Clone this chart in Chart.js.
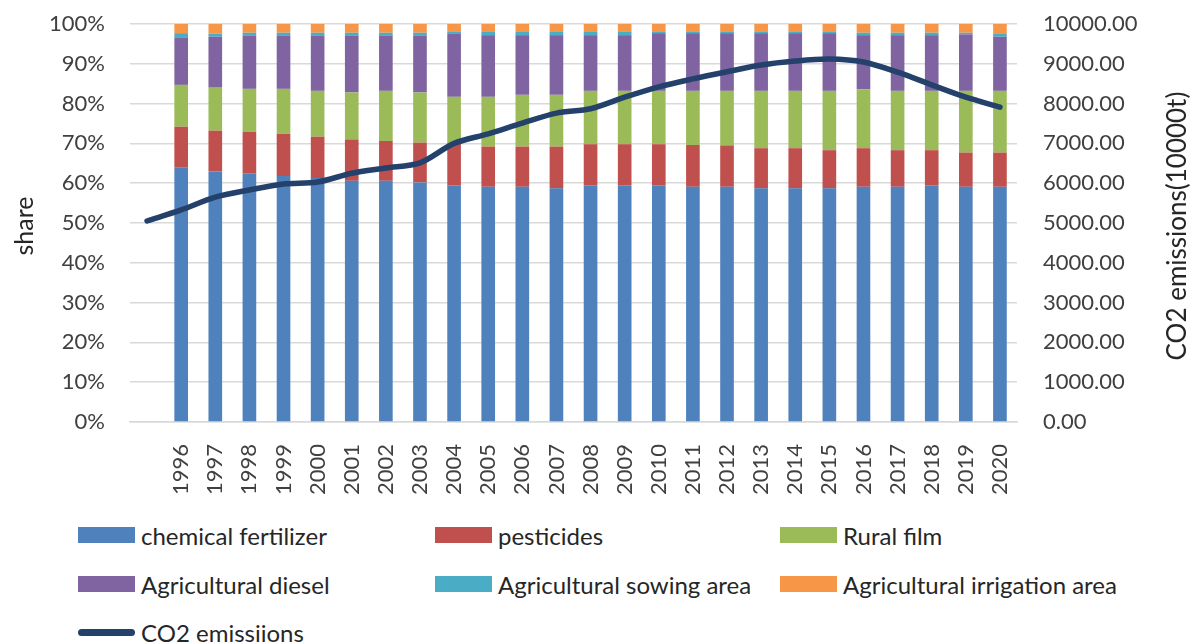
<!DOCTYPE html>
<html>
<head>
<meta charset="utf-8">
<script src="https://cdn.jsdelivr.net/npm/chart.js@4.4.1/dist/chart.umd.min.js"></script>
<style>
  html, body { margin: 0; padding: 0; background: #fff; }
  #wrap { position: relative; width: 1195px; height: 644px; overflow: hidden; font-family: Lato, "Open Sans", sans-serif; }
  #box { position: absolute; left: 0; top: 0; width: 1195px; height: 510px; }
  .lg { position: absolute; display: flex; align-items: center; font-size: 24px; color: #262626; white-space: nowrap; }
  .sw { width: 57px; height: 16px; margin-right: 6px; }
  .sw.line { height: 7px; border-radius: 4px; }
</style>
</head>
<body>
<div id="wrap">
  <div id="box"><canvas id="chart"></canvas></div>
  <div id="legend"></div>
</div>
<script>
// categories (first row has no year label)
const years = ['1996','1997','1998','1999','2000','2001','2002','2003','2004','2005','2006','2007','2008',
  '2009','2010','2011','2012','2013','2014','2015','2016','2017','2018','2019','2020'];

// shares in %, 1996..2020
const fertilizer = [64.0,62.9,62.5,61.8,61.3,60.6,60.6,60.2,59.5,59.1,59.1,58.7,59.5,59.5,59.5,59.1,59.1,58.7,58.7,58.7,59.1,59.1,59.5,59.1,59.1];
const pesticides = [10.2,10.3,10.4,10.6,10.4,10.4,10.0,10.0,10.5,10.1,10.1,10.5,10.3,10.3,10.3,10.5,10.4,10.1,10.1,9.6,9.7,9.2,8.8,8.6,8.6];
const ruralFilm  = [10.5,10.8,10.8,11.3,11.5,11.8,12.6,12.6,11.7,12.5,13.0,13.0,13.4,13.4,13.4,13.6,13.7,14.4,14.4,14.9,14.8,14.9,14.9,15.5,15.5];
const diesel     = [11.8,12.8,13.3,13.3,13.8,14.2,13.8,14.2,15.8,15.5,15.0,15.0,14.0,14.0,14.5,14.5,14.5,14.5,14.5,14.5,13.6,14.0,14.0,14.2,13.6];
const sowing     = [1.2,0.8,0.8,0.8,0.8,0.8,0.8,0.8,0.5,0.8,0.8,0.8,0.8,0.8,0.3,0.3,0.3,0.3,0.3,0.3,0.6,0.6,0.6,0.4,0.7];
const irrigation = [2.3,2.4,2.2,2.2,2.2,2.2,2.2,2.2,2.0,2.0,2.0,2.0,2.0,2.0,2.0,2.0,2.0,2.0,2.0,2.0,2.2,2.2,2.2,2.2,2.5];

// CO2 emissions (10000t), leading unlabeled row + 1996..2020
const co2 = [5050,5330,5650,5830,5980,6030,6250,6380,6510,7000,7240,7510,7760,7870,8160,8420,8620,8800,8970,9070,9120,9045,8790,8470,8160,7910];

const shareTicks = [0,10,20,30,40,50,60,70,80,90,100];
const leftTitle = 'share';
const rightTitle = 'CO2 emissions(10000t)';

const labels = [''].concat(years);
const pad = arr => [null].concat(arr);

const barSeries = [
  { label: 'chemical fertilizer', data: fertilizer, color: '#4F81BD' },
  { label: 'pesticides', data: pesticides, color: '#C0504D' },
  { label: 'Rural film', data: ruralFilm, color: '#9BBB59' },
  { label: 'Agricultural diesel', data: diesel, color: '#8064A2' },
  { label: 'Agricultural sowing area', data: sowing, color: '#4BACC6' },
  { label: 'Agricultural irrigation area', data: irrigation, color: '#F79646' }
];
const lineColor = '#24416B';
const tickFont = { family: 'Lato', size: 22 };
const tickColor = '#404040';

const datasets = barSeries.map(s => ({
  type: 'bar',
  label: s.label,
  data: pad(s.data),
  backgroundColor: s.color,
  stack: 'share',
  yAxisID: 'y',
  barPercentage: 0.4,
  categoryPercentage: 1,
  order: 1
}));
datasets.push({
  type: 'line',
  label: 'CO2 emissiions',
  data: co2,
  yAxisID: 'y1',
  borderColor: lineColor,
  borderWidth: 5.5,
  borderCapStyle: 'round',
  borderJoinStyle: 'round',
  tension: 0.3,
  pointRadius: 0,
  fill: false,
  order: 0
});

// both axis titles read bottom-to-top, as in the original
const axisTitles = {
  id: 'axisTitles',
  afterDraw(chart) {
    const { ctx, chartArea } = chart;
    const cy = (chartArea.top + chartArea.bottom) / 2;
    ctx.save();
    ctx.fillStyle = '#262626';
    ctx.textAlign = 'center';
    ctx.textBaseline = 'middle';
    [[25, leftTitle, 25], [1178, rightTitle, 26]].forEach(([x, text, size]) => {
      ctx.save();
      ctx.translate(x, cy + 3);
      ctx.rotate(-Math.PI / 2);
      ctx.font = size + 'px Lato';
      ctx.fillText(text, 0, 0);
      ctx.restore();
    });
    ctx.restore();
  }
};

const noVPad = s => { s.paddingTop = 0; s.paddingBottom = 0; };

new Chart(document.getElementById('chart'), {
  data: { labels, datasets },
  plugins: [axisTitles],
  options: {
    responsive: true,
    maintainAspectRatio: false,
    animation: false,
    layout: { padding: { top: 24, left: 0, right: 0, bottom: 0 } },
    plugins: { legend: { display: false }, tooltip: { enabled: false } },
    scales: {
      x: {
        stacked: true,
        grid: { display: false },
        border: { display: true, color: '#D9D9D9', width: 1.5 },
        ticks: { font: tickFont, color: tickColor, minRotation: 90, maxRotation: 90, padding: 14, autoSkip: false },
        afterFit: s => { s.height = 88; s.paddingLeft = 0; s.paddingRight = 0; }
      },
      y: {
        stacked: true,
        position: 'left',
        min: 0, max: 100,
        afterBuildTicks: s => { s.ticks = shareTicks.map(v => ({ value: v })); },
        ticks: { font: tickFont, color: tickColor, padding: 25, callback: v => v + '%' },
        grid: { color: '#D9D9D9', lineWidth: 1.5, drawTicks: false },
        border: { display: false },
        afterFit: s => { s.width = 130; noVPad(s); }
      },
      y1: {
        stacked: false,
        position: 'right',
        min: 0, max: 10000,
        ticks: { stepSize: 1000, font: tickFont, color: tickColor, padding: 26, callback: v => v.toFixed(2) },
        grid: { display: false, drawTicks: false },
        border: { display: false },
        afterFit: s => { s.width = 178; noVPad(s); }
      }
    }
  }
});

// legend below the chart, three columns like the original
const legendPos = [
  [78, 535], [435, 535], [780, 535],
  [78, 584], [435, 584], [780, 584],
  [78, 632]
];
const legendItems = barSeries.map(s => ({ label: s.label, color: s.color, line: false }))
  .concat([{ label: 'CO2 emissiions', color: lineColor, line: true }]);
const legend = document.getElementById('legend');
legendItems.forEach((it, i) => {
  const el = document.createElement('div');
  el.className = 'lg';
  el.style.left = legendPos[i][0] + 'px';
  el.style.top = (legendPos[i][1] - 15) + 'px';
  el.style.height = '30px';
  const sw = document.createElement('div');
  sw.className = 'sw' + (it.line ? ' line' : '');
  sw.style.background = it.color;
  const tx = document.createElement('span');
  tx.textContent = it.label;
  el.appendChild(sw);
  el.appendChild(tx);
  legend.appendChild(el);
});
</script>
</body>
</html>
